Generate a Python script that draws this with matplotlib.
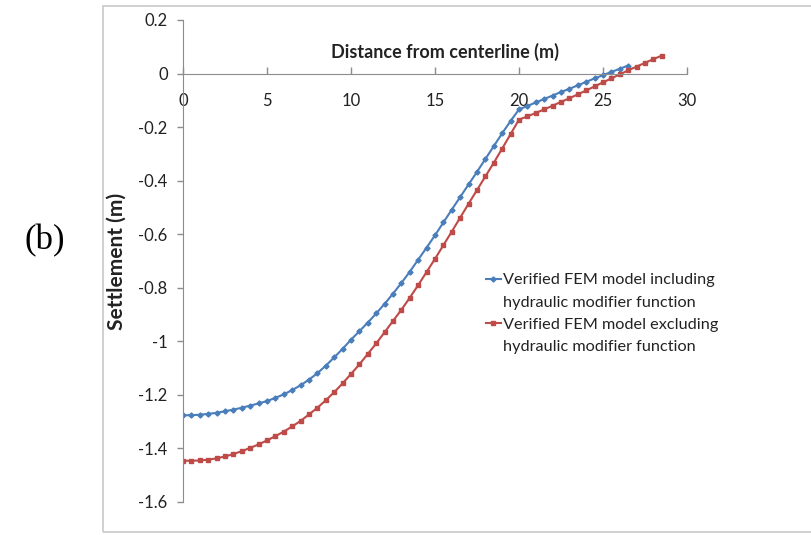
import matplotlib.pyplot as plt
from matplotlib.lines import Line2D
from matplotlib.patches import Rectangle

plt.rcParams['font.family'] = ['Lato', 'DejaVu Sans']

# Verified FEM model including hydraulic modifier function
dist_incl = [0.0, 0.5, 1.0, 1.5, 2.0, 2.5, 3.0, 3.5, 4.0, 4.5,
             5.0, 5.5, 6.0, 6.5, 7.0, 7.5, 8.0, 8.5, 9.0, 9.5,
             10.0, 10.5, 11.0, 11.5, 12.0, 12.5, 13.0, 13.5, 14.0, 14.5,
             15.0, 15.5, 16.0, 16.5, 17.0, 17.5, 18.0, 18.5, 19.0, 19.5,
             20.0, 20.5, 21.0, 21.5, 22.0, 22.5, 23.0, 23.5, 24.0, 24.5,
             25.0, 25.5, 26.0, 26.5]
settle_incl = [-1.276, -1.276, -1.274, -1.271, -1.267, -1.261, -1.255, -1.248, -1.240, -1.232,
               -1.223, -1.211, -1.198, -1.182, -1.164, -1.143, -1.119, -1.091, -1.060, -1.028,
               -0.994, -0.962, -0.930, -0.896, -0.860, -0.822, -0.782, -0.740, -0.695, -0.650,
               -0.604, -0.556, -0.508, -0.461, -0.414, -0.367, -0.319, -0.271, -0.223, -0.177,
               -0.134, -0.121, -0.108, -0.095, -0.082, -0.069, -0.057, -0.044, -0.031, -0.018,
               -0.006, 0.006, 0.018, 0.030]

# Verified FEM model excluding hydraulic modifier function
dist_excl = [0.0, 0.5, 1.0, 1.5, 2.0, 2.5, 3.0, 3.5, 4.0, 4.5,
             5.0, 5.5, 6.0, 6.5, 7.0, 7.5, 8.0, 8.5, 9.0, 9.5,
             10.0, 10.5, 11.0, 11.5, 12.0, 12.5, 13.0, 13.5, 14.0, 14.5,
             15.0, 15.5, 16.0, 16.5, 17.0, 17.5, 18.0, 18.5, 19.0, 19.5,
             20.0, 20.5, 21.0, 21.5, 22.0, 22.5, 23.0, 23.5, 24.0, 24.5,
             25.0, 25.5, 26.0, 26.5, 27.0, 27.5, 28.0, 28.5]
settle_excl = [-1.446, -1.446, -1.445, -1.442, -1.437, -1.430, -1.421, -1.410, -1.398, -1.385,
               -1.370, -1.354, -1.337, -1.318, -1.297, -1.273, -1.248, -1.220, -1.190, -1.157,
               -1.122, -1.086, -1.047, -1.008, -0.966, -0.924, -0.882, -0.837, -0.790, -0.741,
               -0.692, -0.641, -0.590, -0.538, -0.486, -0.435, -0.384, -0.333, -0.280, -0.226,
               -0.172, -0.160, -0.147, -0.134, -0.120, -0.106, -0.092, -0.078, -0.063, -0.048,
               -0.033, -0.018, -0.003, 0.012, 0.026, 0.040, 0.054, 0.067]

x_ticks = [0, 5, 10, 15, 20, 25, 30]
y_ticks = [0.2, 0, -0.2, -0.4, -0.6, -0.8, -1, -1.2, -1.4, -1.6]
y_tick_labels = ['0.2', '0', '-0.2', '-0.4', '-0.6', '-0.8', '-1', '-1.2', '-1.4', '-1.6']

blue = '#4a7ebb'
red = '#be4b48'
axis_grey = '#8c8c8c'
text_col = '#222222'

W, H = 812, 535
fig = plt.figure(figsize=(W / 100, H / 100), dpi=100)
ax = fig.add_axes([183 / W, 1 - 502 / H, 504 / W, 482 / H])

# chart area border (Excel style)
fig.patches.append(Rectangle((103 / W, 1 - 532 / H), 1.0, 526 / H, transform=fig.transFigure,
                             fill=False, edgecolor='#c8c8c8', lw=1.2))

ax.plot(dist_incl, settle_incl, color=blue, lw=1.5, marker='D', ms=2.6, mec=blue, mfc=blue)
ax.plot(dist_excl, settle_excl, color=red, lw=1.5, marker='s', ms=3.4, mec=red, mfc=red)

ax.set_xlim(0, 30)
ax.set_ylim(-1.6, 0.2)
ax.set_xticks(x_ticks)
ax.set_yticks(y_ticks)
ax.set_yticklabels(y_tick_labels)

for s in ['top', 'right']:
    ax.spines[s].set_visible(False)
ax.spines['bottom'].set_position(('data', 0))
ax.spines['bottom'].set_color(axis_grey)
ax.spines['left'].set_color(axis_grey)
ax.tick_params(axis='x', direction='in', length=5, width=1, color=axis_grey,
               labelsize=12, labelcolor=text_col, pad=14)
ax.tick_params(axis='y', direction='out', length=4, width=1, color=axis_grey,
               labelsize=12, labelcolor=text_col, pad=7)

ax.text(15.6, 0.08, 'Distance from centerline (m)', ha='center', va='center',
        fontsize=13, fontweight='bold', color=text_col)
ax.set_ylabel('Settlement (m)', fontsize=15, fontweight='bold', color=text_col)
ax.yaxis.set_label_coords(-0.112, 0.5)

fig.text(45 / W, 1 - 241 / H, '(b)', ha='center', va='center', fontsize=25,
         family='Liberation Serif', color='black')

handles = [Line2D([], [], color=blue, lw=1.5, marker='D', ms=2.6),
           Line2D([], [], linestyle='none'),
           Line2D([], [], color=red, lw=1.5, marker='s', ms=3.4),
           Line2D([], [], linestyle='none')]
labels = ['Verified FEM model including', 'hydraulic modifier function',
          'Verified FEM model excluding', 'hydraulic modifier function']
ax.legend(handles, labels, loc='upper left', bbox_to_anchor=(478 / W, 1 - 265 / H),
          bbox_transform=fig.transFigure, frameon=False, fontsize=11.7,
          handlelength=0.9, handletextpad=0.15, labelspacing=0.47, borderpad=0,
          labelcolor=text_col)

fig.savefig('out.png', dpi=100)
